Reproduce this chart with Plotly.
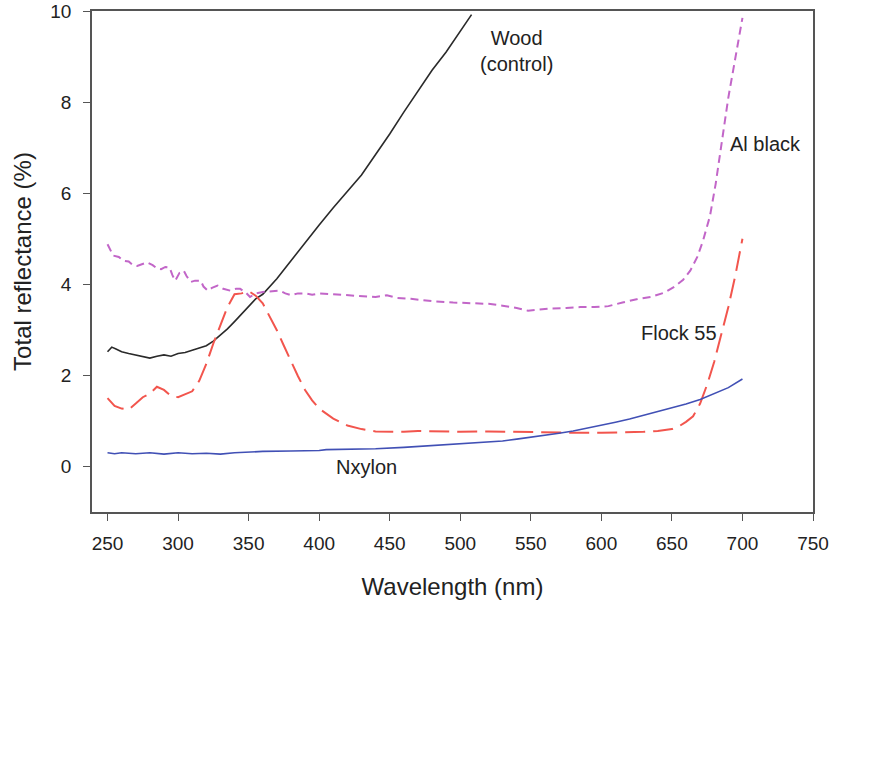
import plotly.graph_objects as go

# ---- data ----
wood_x = [250, 253, 256, 260, 265, 270, 275, 280, 285, 290, 295, 300, 305, 310, 315, 320,
          325, 330, 335, 340, 345, 350, 355, 360, 365, 370, 375, 380, 390, 400, 410, 420,
          430, 440, 450, 460, 470, 480, 490, 500, 508]
wood_y = [2.52, 2.62, 2.58, 2.52, 2.48, 2.45, 2.42, 2.38, 2.42, 2.45, 2.42, 2.48, 2.5, 2.55, 2.6, 2.65,
          2.75, 2.88, 3.02, 3.18, 3.35, 3.52, 3.68, 3.78, 3.95, 4.12, 4.32, 4.52, 4.9, 5.3, 5.68, 6.05,
          6.4, 6.85, 7.3, 7.78, 8.25, 8.7, 9.1, 9.55, 9.92]

al_x = [250, 254, 258, 261, 265, 268, 271, 275, 278, 282, 285, 288, 291, 294, 296, 298, 301, 304,
        306, 309, 312, 316, 318, 321, 324, 328, 332, 337, 341, 344, 348, 351, 355, 360, 366, 372,
        376, 380, 385, 390, 395, 400, 410, 420, 430, 440, 448, 455, 465, 480, 495, 510, 520, 530,
        540, 548, 555, 565, 575, 585, 595, 605, 615, 625, 635, 645, 652, 658, 663, 668, 672, 677,
        681, 686, 690, 694, 697, 700]
al_y = [4.88, 4.63, 4.6, 4.52, 4.5, 4.42, 4.4, 4.45, 4.48, 4.42, 4.35, 4.33, 4.38, 4.37, 4.2, 4.08, 4.25, 4.3,
        4.18, 4.05, 4.08, 4.08, 3.95, 3.86, 3.92, 3.97, 3.9, 3.86, 3.9, 3.9, 3.82, 3.72, 3.8, 3.83, 3.85, 3.86,
        3.8, 3.76, 3.8, 3.8, 3.77, 3.8, 3.78, 3.76, 3.74, 3.72, 3.76, 3.7, 3.68, 3.63, 3.6, 3.58, 3.57, 3.53,
        3.48, 3.42, 3.44, 3.47, 3.48, 3.5, 3.5, 3.52, 3.6, 3.67, 3.72, 3.82, 3.95, 4.1, 4.3, 4.6, 4.95, 5.5,
        6.2, 7.3, 8.1, 8.8, 9.3, 9.85]

flock_x = [250, 255, 260, 265, 270, 275, 280, 285, 290, 295, 300, 305, 310, 315, 320, 325, 330,
           335, 340, 345, 350, 355, 360, 365, 370, 375, 380, 385, 390, 395, 400, 410, 420, 430,
           440, 450, 460, 470, 480, 500, 520, 540, 560, 580, 600, 620, 630, 640, 650, 655, 660,
           665, 670, 675, 680, 685, 690, 695, 700]
flock_y = [1.5, 1.33, 1.27, 1.25, 1.38, 1.52, 1.6, 1.75, 1.68, 1.55, 1.52, 1.58, 1.65, 1.88, 2.25, 2.7, 3.1,
           3.5, 3.78, 3.8, 3.85, 3.75, 3.58, 3.3, 2.99, 2.65, 2.3, 1.98, 1.68, 1.45, 1.27, 1.05, 0.9, 0.82,
           0.77, 0.76, 0.76, 0.78, 0.77, 0.76, 0.77, 0.76, 0.74, 0.74, 0.74, 0.75, 0.76, 0.78, 0.82, 0.88, 0.98,
           1.1, 1.38, 1.8, 2.3, 2.9, 3.5, 4.2, 5.0]

nx_x = [250, 255, 260, 270, 280, 290, 300, 310, 320, 330, 340, 350, 360, 380, 400, 405, 420, 440,
        460, 470, 490, 500, 510, 520, 530, 540, 550, 560, 570, 580, 590, 600, 610, 620, 630, 640,
        650, 660, 670, 680, 690, 700]
nx_y = [0.3, 0.28, 0.3, 0.28, 0.3, 0.27, 0.3, 0.28, 0.29, 0.27, 0.3, 0.32, 0.33, 0.34, 0.35, 0.37, 0.38, 0.39,
        0.42, 0.44, 0.47, 0.5, 0.52, 0.54, 0.56, 0.6, 0.64, 0.68, 0.73, 0.78, 0.84, 0.9, 0.97, 1.04, 1.12, 1.2,
        1.29, 1.37, 1.47, 1.6, 1.73, 1.92]

x_ticks = [250, 300, 350, 400, 450, 500, 550, 600, 650, 700, 750]
y_ticks = [0, 2, 4, 6, 8, 10]

labels = [
    ("Wood<br>(control)", 539.6, 9.13),
    ("Al black", 716.5, 7.07),
    ("Flock 55", 654.7, 2.93),
    ("Nxylon", 433.4, -0.02),
]

FONT = "Liberation Sans, Arial, sans-serif"
TXT = "#222222"

fig = go.Figure()
fig.add_trace(go.Scatter(x=wood_x, y=wood_y, mode="lines", name="Wood (control)",
                         line=dict(color="#2a2a2a", width=1.6)))
fig.add_trace(go.Scatter(x=al_x, y=al_y, mode="lines", name="Al black",
                         line=dict(color="#c266c8", width=2, dash="8px,5px")))
fig.add_trace(go.Scatter(x=flock_x, y=flock_y, mode="lines", name="Flock 55",
                         line=dict(color="#f2554d", width=2, dash="20px,8px")))
fig.add_trace(go.Scatter(x=nx_x, y=nx_y, mode="lines", name="Nxylon",
                         line=dict(color="#4150b5", width=1.6)))

for text, x, y in labels:
    fig.add_annotation(x=x, y=y, text=text, showarrow=False,
                       font=dict(family=FONT, size=20, color=TXT),
                       xanchor="center", yanchor="middle")

axis_common = dict(showgrid=False, zeroline=False, showline=True, linecolor="#555555",
                   linewidth=1.5, mirror=True, ticks="outside", ticklen=7, tickwidth=1.3,
                   tickcolor="#555555", tickfont=dict(family=FONT, size=19, color=TXT),
                   automargin=False, ticklabeloverflow="allow")

fig.update_xaxes(range=[239, 750], tickvals=x_ticks, ticklabelstandoff=6,
                 title=dict(text="Wavelength (nm)", font=dict(family=FONT, size=24, color=TXT),
                            standoff=26),
                 **axis_common)
fig.update_yaxes(range=[-1, 10], tickvals=y_ticks, ticklabelstandoff=8,
                 title=dict(text="Total reflectance (%)", font=dict(family=FONT, size=24, color=TXT),
                            standoff=12),
                 **axis_common)

fig.update_layout(width=876, height=760, plot_bgcolor="white", paper_bgcolor="white",
                  showlegend=False, margin=dict(l=92, r=63, t=11, b=248),
                  font=dict(family=FONT, color=TXT))

fig.write_html("out.html", config={"displayModeBar": False},
               post_script="document.body.style.margin='0';")
